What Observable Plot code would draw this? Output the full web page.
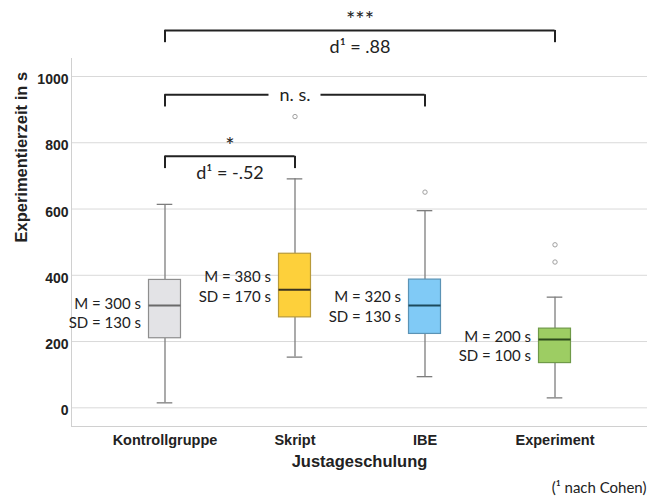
<!DOCTYPE html>
<html><head><meta charset="utf-8">
<script src="https://cdn.jsdelivr.net/npm/d3@7"></script>
<script src="https://cdn.jsdelivr.net/npm/@observablehq/plot@0.6"></script>
<style>
html,body{margin:0;padding:0;background:#fff;}
</style></head><body><div id="chart"></div>
<script>
// ---- data ----
const categories = ["Kontrollgruppe", "Skript", "IBE", "Experiment"];
const q1 = [210, 273, 223, 135];
const median = [309, 356, 309, 206];
const q3 = [386, 465, 387, 239];
const whiskerLow = [15, 153, 94, 30];
const whiskerHigh = [614, 691, 595, 334];
const means = [300, 380, 320, 200];
const sds = [130, 170, 130, 100];
const outlierGroup = ["Skript", "IBE", "Experiment", "Experiment"];
const outlierValue = [879, 651, 492, 440];
const yTicks = [0, 200, 400, 600, 800, 1000];
const bracketFrom = ["Kontrollgruppe", "Kontrollgruppe", "Kontrollgruppe"];
const bracketTo = ["Experiment", "IBE", "Skript"];
const bracketLevel = [1139, 945, 759];
const bracketSig = ["***", "n. s.", "*"];
const bracketEffect = ["d¹ = .88", "", "d¹ = -.52"];
const xTitle = "Justageschulung";
const yTitle = "Experimentierzeit in s";
const note = "(¹ nach Cohen)";

// ---- styles ----
const fills = ["#e3e3e6", "#fdd03b", "#80caf6", "#9dcd63"];
const strokes = ["#8e8e8e", "#b89a3a", "#5b93b5", "#6f9a48"];
const medianColors = ["#6a6a6a", "#3b3320", "#1d4a5c", "#2c4a1c"];
const HW = 0.123;   // half box width (x units)
const CW = 0.06;    // half whisker-cap width
const TICK = 37;    // bracket tick length (y units)
const GAP = 0.2;    // half gap around "n. s." (x units)
const calib = "Lato, 'Open Sans', sans-serif";
const ink = "#222";

const idx = c => categories.indexOf(c);
const boxes = categories.map((c, i) => ({
  i, q1: q1[i], med: median[i], q3: q3[i], lo: whiskerLow[i], hi: whiskerHigh[i],
  label: `M = ${means[i]} s\nSD = ${sds[i]} s`, mean: means[i],
  fill: fills[i], stroke: strokes[i], medc: medianColors[i]
}));
const outliers = outlierGroup.map((g, i) => ({i: idx(g), v: outlierValue[i]}));
const brackets = bracketFrom.map((f, k) => {
  const a = idx(f), b = idx(bracketTo[k]);
  return {a, b, mid: (a + b) / 2, y: bracketLevel[k], sig: bracketSig[k], eff: bracketEffect[k], gap: bracketSig[k] === "n. s."};
});
// horizontal segments (split around inline label)
const segs = brackets.flatMap(d => d.gap
  ? [{x1: d.a, x2: d.mid - GAP, y: d.y}, {x1: d.mid + GAP, x2: d.b, y: d.y}]
  : [{x1: d.a, x2: d.b, y: d.y}]);
const ends = brackets.flatMap(d => [{x: d.a, y: d.y}, {x: d.b, y: d.y}]);

const chart = Plot.plot({
  width: 647, height: 497,
  marginLeft: 71, marginRight: 0, marginTop: 58, marginBottom: 71,
  style: {fontFamily: "'Liberation Sans', Arial, sans-serif", background: "#fff", color: ink},
  x: {domain: [-0.7192, 3.7115]},
  y: {domain: [-56.4, 1054.3]},
  marks: [
    Plot.ruleY(yTicks, {stroke: "#d9d9d9", strokeWidth: 1}),
    Plot.frame({anchor: "left", stroke: "#d0d0d0"}),
    Plot.frame({anchor: "bottom", stroke: "#d0d0d0"}),
    Plot.axisY(yTicks, {tickSize: 0, tickPadding: 3, fontSize: 14, fontWeight: "bold", label: null, dy: 3,
      fill: ink, tickFormat: d => String(d)}),
    Plot.axisX(d3.range(categories.length), {tickSize: 0, tickPadding: 8, fontSize: 14.5, fontWeight: "bold",
      label: null, fill: ink, tickFormat: i => categories[i]}),
    // whiskers
    Plot.ruleX(boxes, {x: "i", y1: "q3", y2: "hi", stroke: "#7d7d7d", strokeWidth: 1.3}),
    Plot.ruleX(boxes, {x: "i", y1: "lo", y2: "q1", stroke: "#7d7d7d", strokeWidth: 1.3}),
    Plot.ruleY(boxes, {y: "hi", x1: d => d.i - CW, x2: d => d.i + CW, stroke: "#7d7d7d", strokeWidth: 1.3}),
    Plot.ruleY(boxes, {y: "lo", x1: d => d.i - CW, x2: d => d.i + CW, stroke: "#7d7d7d", strokeWidth: 1.3}),
    // boxes
    Plot.rectY(boxes, {x1: d => d.i - HW, x2: d => d.i + HW, y1: "q1", y2: "q3", fill: "fill", stroke: "stroke", strokeWidth: 1.2}),
    Plot.ruleY(boxes, {y: "med", x1: d => d.i - HW, x2: d => d.i + HW, stroke: "medc", strokeWidth: 2}),
    // outliers
    Plot.dot(outliers, {x: "i", y: "v", r: 2.2, stroke: "#a0a0a0", fill: "none", strokeWidth: 1}),
    // M / SD labels
    Plot.text(boxes, {x: "i", y: "mean", text: "label", textAnchor: "end", dx: -24, dy: 4, lineHeight: 1.28,
      fontSize: 15, fontFamily: calib, fill: ink}),
    // brackets
    Plot.ruleY(segs, {x1: "x1", x2: "x2", y: "y", stroke: ink, strokeWidth: 2}),
    Plot.ruleX(ends, {x: "x", y1: "y", y2: d => d.y - TICK, stroke: ink, strokeWidth: 2}),
    Plot.text(brackets.filter(d => !d.gap), {x: "mid", y: "y", text: "sig", dy: -10, fontSize: 22, fontFamily: calib, fill: ink}),
    Plot.text(brackets.filter(d => d.eff), {x: "mid", y: "y", text: "eff", dy: 17, fontSize: 18, fontFamily: calib, fill: ink}),
    Plot.text(brackets.filter(d => d.gap), {x: "mid", y: "y", text: "sig", dy: 1, fontSize: 18, fontFamily: calib, fill: ink}),
    // titles
    Plot.text([xTitle], {frameAnchor: "bottom", dy: 40, fontSize: 16.5, fontWeight: "bold", fill: ink}),
    Plot.text([yTitle], {frameAnchor: "left", dx: -50, rotate: -90, fontSize: 16.5, fontWeight: "bold", fill: ink}),
    Plot.text([note], {frameAnchor: "bottom-right", textAnchor: "end", dx: -1, dy: 66, fontSize: 15, fontFamily: calib, fill: ink})
  ]
});
document.getElementById("chart").appendChild(chart);
</script>
</body></html>
